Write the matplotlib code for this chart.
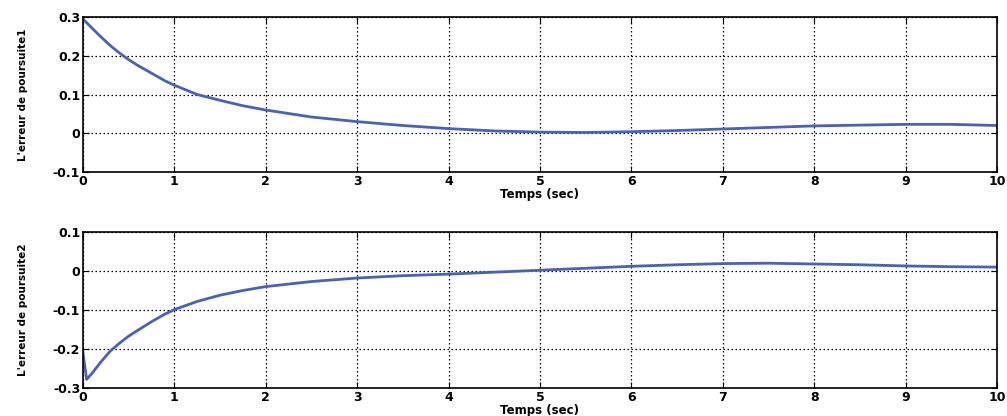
import numpy as np
import matplotlib
matplotlib.use('Agg')
import matplotlib.pyplot as plt

# tracking error samples (time in s)
t1 = [0, 0.1, 0.2, 0.3, 0.4, 0.5, 0.6, 0.75, 0.9, 1, 1.25, 1.5, 1.75, 2,
      2.5, 3, 3.5, 4, 4.5, 5, 5.5, 6, 6.5, 7, 7.5, 8, 8.5, 9, 9.5, 10]
err1 = [0.295, 0.271, 0.248, 0.226, 0.207, 0.19, 0.175, 0.155, 0.135, 0.124,
        0.1, 0.085, 0.071, 0.06, 0.042, 0.03, 0.02, 0.012, 0.006, 0.003,
        0.002, 0.004, 0.007, 0.011, 0.015, 0.019, 0.021, 0.023, 0.023, 0.02]
t2 = [0, 0.04, 0.1, 0.2, 0.3, 0.4, 0.5, 0.6, 0.75, 0.9, 1, 1.25, 1.5, 1.75,
      2, 2.5, 3, 3.5, 4, 4.5, 5, 5.5, 6, 6.5, 7, 7.5, 8, 8.5, 9, 9.5, 10]
err2 = [-0.21, -0.278, -0.262, -0.232, -0.205, -0.185, -0.167, -0.152, -0.13,
        -0.11, -0.099, -0.078, -0.062, -0.05, -0.04, -0.027, -0.018, -0.012,
        -0.008, -0.003, 0.002, 0.007, 0.012, 0.016, 0.019, 0.02, 0.018,
        0.016, 0.013, 0.011, 0.01]

xticks = list(range(0, 11))
yticks1 = [-0.1, 0, 0.1, 0.2, 0.3]
yticks2 = [-0.3, -0.2, -0.1, 0, 0.1]
ylabels = ["L'erreur de poursuite1", "L'erreur de poursuite2"]

plt.rcParams['font.family'] = ['DejaVu Sans']
fig = plt.figure(figsize=(10.07, 4.16), dpi=100)
ax1 = fig.add_axes([0.0824, 0.5865, 0.9076, 0.3726])
ax2 = fig.add_axes([0.0824, 0.0673, 0.9076, 0.375])

for ax, t, y, yt, lab in [(ax1, t1, err1, yticks1, ylabels[0]),
                          (ax2, t2, err2, yticks2, ylabels[1])]:
    ax.plot(t, y, color='#4a62b5', lw=2)
    ax.set_xlim(0, 10)
    ax.set_ylim(yt[0], yt[-1])
    ax.set_xticks(xticks)
    ax.set_yticks(yt)
    ax.set_yticklabels(['0' if v == 0 else f'{v:.1f}' for v in yt])
    ax.grid(True, color='black', linestyle=(0, (1.2, 2)), lw=0.9)
    ax.tick_params(direction='in', top=True, right=True, length=4,
                   labelsize=9, pad=2)
    for lb in ax.get_xticklabels() + ax.get_yticklabels():
        lb.set_fontweight('bold')
    for s in ax.spines.values():
        s.set_linewidth(1.2)
    ax.set_xlabel('Temps (sec)', fontsize=8.5, fontweight='bold', labelpad=0.5)
    ax.set_ylabel(lab, fontsize=7.5, fontweight='bold', labelpad=18)

fig.savefig('out.png', dpi=100)
